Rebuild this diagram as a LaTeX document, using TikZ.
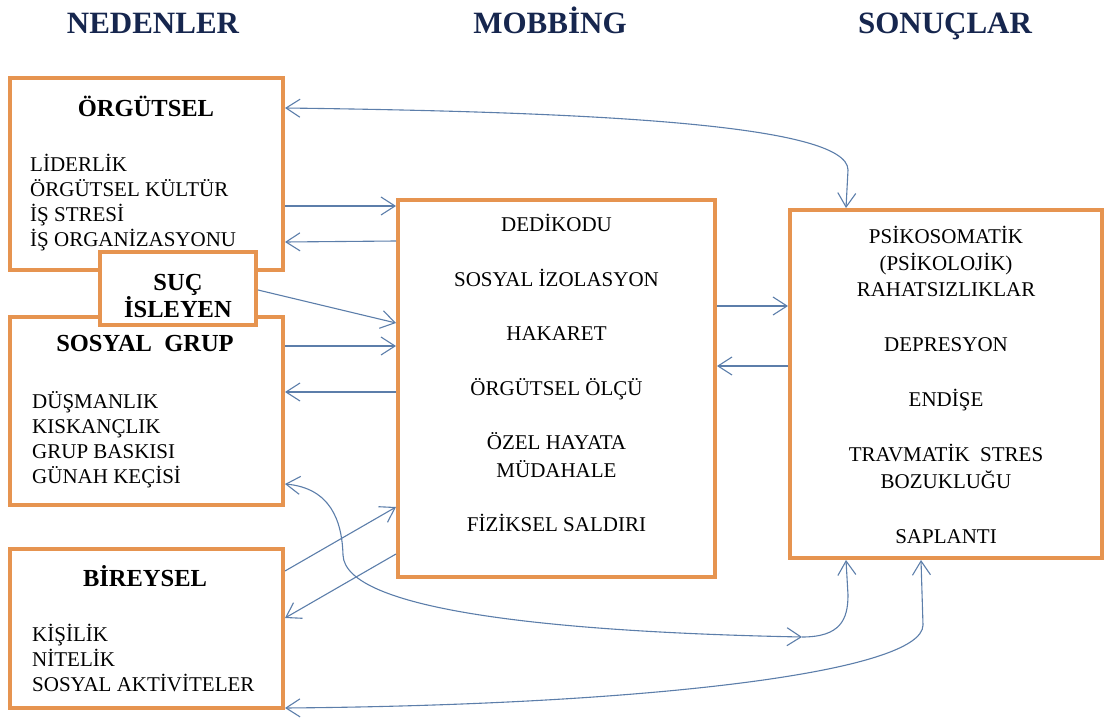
\documentclass[tikz,border=0pt]{standalone}
\usepackage{fontspec}
\setmainfont{Liberation Serif}
\usetikzlibrary{arrows.meta,positioning}
\definecolor{brd}{RGB}{230,148,80}
\definecolor{arw}{RGB}{92,126,170}
\definecolor{hd}{RGB}{22,38,78}

\begin{document}
\begin{tikzpicture}[x=1pt,y=-1pt,
  font=\fontsize{21}{25}\selectfont,
  box/.style={draw=brd,line width=4pt,fill=white,inner sep=0pt},
  hdr/.style={text=hd,font=\fontsize{31}{31}\selectfont\bfseries,anchor=base,inner sep=0pt},
  ttl/.style={font=\fontsize{24.5}{21.5}\selectfont\bfseries,inner sep=0pt},
  lst/.style={align=left,anchor=north west,inner sep=0pt},
  itm/.style={align=center,anchor=north,inner sep=0pt},
  >={Straight Barb[length=14pt,width=18pt]},
  a/.style={->,draw=arw,line width=1.1pt},
  aa/.style={a,<->}
]
\useasboundingbox (0,0) rectangle (1109,720);

% headings
\node[hdr] (hNed) at (153,33) {NEDENLER};
\node[hdr] (hMob) at (550,33) {MOBBİNG};
\node[hdr] (hSon) at (945,33) {SONUÇLAR};

% causes
\node[box,minimum width=273pt,minimum height=192pt] (org) at (146.5,174) {};
\node[box,minimum width=273pt,minimum height=188pt] (sos) at (146.5,411) {};
\node[box,minimum width=273pt,minimum height=159pt] (bir) at (146.5,628.5) {};
\node[box,minimum width=156pt,minimum height=73pt] (suc) at (178,288.5) {};

\node[ttl,anchor=base] (orgT) at (146,116) {ÖRGÜTSEL};
\node[lst] (orgL) at (30,154.4) {LİDERLİK\\ÖRGÜTSEL KÜLTÜR\\İŞ STRESİ\\İŞ ORGANİZASYONU};
\node[ttl,align=center,anchor=north] (sucT) at (178,274) {SUÇ\\İSLEYEN};
\node[ttl,anchor=base] (sosT) at (145,351) {SOSYAL\ \ GRUP};
\node[lst] (sosL) at (32,391.4) {DÜŞMANLIK\\KISKANÇLIK\\GRUP BASKISI\\GÜNAH KEÇİSİ};
\node[ttl,anchor=base] (birT) at (145,586) {BİREYSEL};
\node[lst] (birL) at (32,624.4) {KİŞİLİK\\NİTELİK\\SOSYAL AKTİVİTELER};

% mobbing
\node[box,minimum width=317pt,minimum height=377pt] (mob) at (556.5,388.5) {};
\node[itm,font=\fontsize{21}{27.5}\selectfont] (mobL) at (556.5,214.4)
  {DEDİKODU\\[27pt]SOSYAL İZOLASYON\\[27pt]HAKARET\\[27pt]ÖRGÜTSEL ÖLÇÜ\\[27pt]ÖZEL HAYATA\\MÜDAHALE\\[27pt]FİZİKSEL SALDIRI};

% results
\node[box,minimum width=312pt,minimum height=348pt] (son) at (946,384) {};
\node[itm,font=\fontsize{21}{26.5}\selectfont] (sonL) at (946,226.4)
  {PSİKOSOMATİK\\(PSİKOLOJİK)\\RAHATSIZLIKLAR\\[28.5pt]DEPRESYON\\[28.5pt]ENDİŞE\\[28.5pt]TRAVMATİK\ \ STRES\\BOZUKLUĞU\\[28.5pt]SAPLANTI};

% arrows
\draw[a] ([yshift=-130pt]org.north east) -- ([yshift=-8pt]mob.north west);
\draw[a] ([yshift=-43pt]mob.north west) -- ([yshift=-166pt]org.north east);
\draw[a] ([yshift=-40pt]suc.north east) -- ([yshift=-125pt]mob.north west);
\draw[a] ([yshift=-31pt]sos.north east) -- ([yshift=-148pt]mob.north west);
\draw[a] ([yshift=-194pt]mob.north west) -- ([yshift=-77pt]sos.north east);
\draw[a] ([yshift=-24pt]bir.north east) -- ([yshift=72pt]mob.south west);
\draw[a] ([yshift=25pt]mob.south west) -- ([yshift=-71pt]bir.north east);
\draw[a] ([yshift=-108pt]mob.north east) -- ([yshift=-98pt]son.north west);
\draw[a] ([yshift=-158pt]son.north west) -- ([yshift=-168pt]mob.north east);

\draw[aa] ([yshift=-32pt]org.north east) .. controls (600,112) and (848,125) .. (848,170)
  -- ([xshift=58pt]son.north west);
\coordinate (jn) at (802,637);
\draw[aa] ([yshift=23pt]sos.south east) .. controls (330,488) and (342,520) .. (343,555)
  .. controls (345,610) and (550,632) .. (jn);
\draw[a] (jn) .. controls (840,637) and (848,620) .. (848,595) -- ([xshift=58pt]son.south west);
\draw[aa] ([yshift=2pt]bir.south east) .. controls (650,705) and (923,672) .. (923,625)
  -- ([xshift=133pt]son.south west);
\end{tikzpicture}
\end{document}
